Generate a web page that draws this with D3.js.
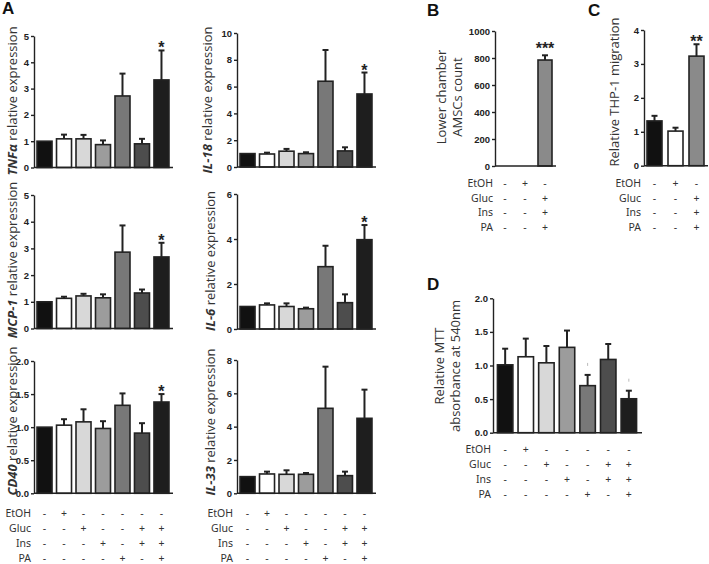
<!DOCTYPE html>
<html>
<head>
<meta charset="utf-8">
<script src="https://cdn.jsdelivr.net/npm/d3@7"></script>
<style>
  html, body { margin: 0; padding: 0; background: #fff; }
  svg { display: block; }
  .tick text { font-family: "Liberation Sans", Arial, sans-serif; font-weight: bold; font-size: 9.5px; fill: #222; }
  .tick line, .domain { stroke: #222; stroke-width: 1.4px; }
  .lab { font-family: "Open Sans", sans-serif; font-size: 13px; fill: #333; }
  .tbl { font-family: "Noto Sans", sans-serif; font-size: 10.5px; fill: #333; }
  .panel { font-family: "Liberation Sans", Arial, sans-serif; font-weight: bold; font-size: 17px; fill: #111; }
  .star { font-family: "Liberation Sans", Arial, sans-serif; font-weight: bold; font-size: 16px; fill: #222; }
</style>
</head>
<body>
<svg id="chart" width="709" height="564"></svg>
<script>
// --- data ---
const rowNames = ['EtOH', 'Gluc', 'Ins', 'PA'];
const signs7 = [
    ['-', '+', '-', '-', '-', '-', '-'],
    ['-', '-', '+', '-', '-', '+', '+'],
    ['-', '-', '-', '+', '-', '+', '+'],
    ['-', '-', '-', '-', '+', '-', '+']
];
const signs3 = [
    ['-', '+', '-'],
    ['-', '-', '+'],
    ['-', '-', '+'],
    ['-', '-', '+']
];
const fills7 = ['#111', '#fff', '#d8d8d8', '#9c9c9c', '#787878', '#4d4d4d', '#1e1e1e'];
const fillsB = ['#111', '#fff', '#8a8a8a'];

const tnfMean = [1.0, 1.09, 1.09, 0.87, 2.72, 0.9, 3.33];
const tnfErr = [0, 0.16, 0.15, 0.16, 0.85, 0.19, 1.12];
const il18Mean = [1.0, 0.97, 1.18, 1.0, 6.4, 1.2, 5.45];
const il18Err = [0, 0.1, 0.17, 0.1, 2.33, 0.27, 1.6];
const mcp1Mean = [1.0, 1.13, 1.22, 1.15, 2.86, 1.33, 2.68];
const mcp1Err = [0, 0.06, 0.08, 0.13, 1.0, 0.13, 0.53];
const il6Mean = [1.0, 1.07, 1.0, 0.9, 2.77, 1.17, 3.97];
const il6Err = [0, 0.07, 0.14, 0.05, 0.93, 0.37, 0.65];
const cd40Mean = [1.0, 1.03, 1.08, 0.98, 1.33, 0.91, 1.38];
const cd40Err = [0, 0.09, 0.19, 0.11, 0.18, 0.15, 0.12];
const il33Mean = [1.0, 1.16, 1.14, 1.14, 5.1, 1.06, 4.5];
const il33Err = [0, 0.14, 0.24, 0.08, 2.5, 0.24, 1.72];

const amscMean = [0, 0, 785];
const amscErr = [0, 0, 35];
const thpMean = [1.32, 1.02, 3.23];
const thpErr = [0.15, 0.1, 0.35];
const mttMean = [1.01, 1.13, 1.04, 1.27, 0.70, 1.09, 0.505];
const mttErr = [0.24, 0.27, 0.25, 0.25, 0.16, 0.23, 0.12];

const svg = d3.select('#chart');

// draws one bar panel; returns the x scale so the table can line up
function barPanel(o) {
    const n = o.mean.length;
    const x = d3.scaleBand().domain(d3.range(n)).range([o.x0, o.x1])
        .paddingInner(o.padIn || 0.23).paddingOuter(o.padOut || 0.155);
    const y = d3.scaleLinear().domain([0, o.max]).range([o.yb, o.yt]);
    const g = svg.append('g');

    g.append('g')
        .attr('transform', `translate(${o.x0},0)`)
        .call(d3.axisLeft(y).tickValues(o.ticks).tickSize(3).tickSizeOuter(0).tickPadding(2)
            .tickFormat(o.fmt ? d3.format(o.fmt) : d3.format('d')));

    g.selectAll('.bar').data(o.mean).enter().append('rect')
        .attr('x', (d, i) => x(i))
        .attr('y', d => y(d))
        .attr('width', x.bandwidth())
        .attr('height', d => y(0) - y(d))
        .attr('fill', (d, i) => o.fills[i])
        .attr('stroke', '#222')
        .attr('stroke-width', d => d > 0 ? 1.6 : 0);

    o.mean.forEach((d, i) => {
        const e = o.err[i];
        if (!e) return;
        const cx = x(i) + x.bandwidth() / 2;
        g.append('line').attr('x1', cx).attr('x2', cx).attr('y1', y(d)).attr('y2', y(d + e))
            .attr('stroke', '#222').attr('stroke-width', 2);
        g.append('line').attr('x1', cx - 3).attr('x2', cx + 3).attr('y1', y(d + e)).attr('y2', y(d + e))
            .attr('stroke', '#222').attr('stroke-width', 2);
    });

    // baseline
    g.append('line').attr('x1', o.x0).attr('x2', o.x1 + 1).attr('y1', y(0)).attr('y2', y(0))
        .attr('stroke', '#222').attr('stroke-width', 1.6);

    (o.stars || []).forEach(s => {
        const d = o.mean[s.i] + o.err[s.i];
        g.append('text').attr('class', 'star')
            .attr('x', x(s.i) + x.bandwidth() / 2)
            .attr('y', y(d) + (s.dy || 3))
            .attr('text-anchor', 'middle')
            .text(s.t);
    });

    // y label
    const lab = g.append('text').attr('class', 'lab')
        .attr('transform', `translate(${o.labX},${o.labY}) rotate(-90)`)
        .attr('text-anchor', 'middle');
    if (o.gene) {
        lab.attr('dominant-baseline', 'central');
        lab.append('tspan').attr('font-weight', 'bold').attr('font-style', 'italic').text(o.gene);
        lab.append('tspan').text(' relative expression');
    } else {
        o.lines.forEach((t, k) => {
            lab.append('tspan').attr('x', 0).attr('dy', k === 0 ? 0 : 16).text(t);
        });
    }
    return x;
}

function signTable(x, rows, labelX, ys) {
    const g = svg.append('g');
    rowNames.forEach((r, k) => {
        g.append('text').attr('class', 'tbl').attr('x', labelX).attr('y', ys[k])
            .attr('text-anchor', 'end').attr('dominant-baseline', 'central').text(r);
        rows[k].forEach((s, i) => {
            g.append('text').attr('class', 'tbl')
                .attr('x', x(i) + x.bandwidth() / 2).attr('y', ys[k])
                .attr('text-anchor', 'middle').attr('dominant-baseline', 'central').text(s);
        });
    });
}

// --- panel A ---
barPanel({ mean: tnfMean, err: tnfErr, fills: fills7, x0: 34, x1: 172, yb: 167.5, yt: 36, max: 5,
    ticks: [0, 1, 2, 3, 4, 5], stars: [{ i: 6, t: '*' }], gene: 'TNFα', labX: 11.5, labY: 101 });
barPanel({ mean: il18Mean, err: il18Err, fills: fills7, x0: 237, x1: 375, yb: 167, yt: 33, max: 10,
    ticks: [0, 2, 4, 6, 8, 10], stars: [{ i: 6, t: '*' }], gene: 'IL-18', labX: 207, labY: 100 });
barPanel({ mean: mcp1Mean, err: mcp1Err, fills: fills7, x0: 34, x1: 172, yb: 328.5, yt: 195, max: 5,
    ticks: [0, 1, 2, 3, 4, 5], stars: [{ i: 6, t: '*' }], gene: 'MCP-1', labX: 11.5, labY: 260 });
barPanel({ mean: il6Mean, err: il6Err, fills: fills7, x0: 237, x1: 375, yb: 329, yt: 194, max: 6,
    ticks: [0, 2, 4, 6], stars: [{ i: 6, t: '*' }], gene: 'IL-6', labX: 210, labY: 261 });
barPanel({ mean: cd40Mean, err: cd40Err, fills: fills7, x0: 34, x1: 172, yb: 493.3, yt: 361, max: 2,
    ticks: [0, 0.5, 1, 1.5, 2], fmt: '.1f', stars: [{ i: 6, t: '*' }], gene: 'CD40', labX: 11.5, labY: 421 });
const xA = barPanel({ mean: il33Mean, err: il33Err, fills: fills7, x0: 237, x1: 375, yb: 493.3, yt: 360, max: 8,
    ticks: [0, 2, 4, 6, 8], gene: 'IL-33', labX: 210, labY: 422 });
const xAl = d3.scaleBand().domain(d3.range(7)).range([34, 172]).paddingInner(0.23).paddingOuter(0.155);

signTable(xAl, signs7, 31, [512.5, 527.8, 542.8, 557.5]);
signTable(xA, signs7, 233, [512.5, 527.8, 542.8, 557.5]);

// --- panel B ---
const xB = barPanel({ mean: amscMean, err: amscErr, fills: fillsB, x0: 495, x1: 555, yb: 166, yt: 31, max: 1000,
    ticks: [0, 200, 400, 600, 800, 1000], padIn: 0.3, padOut: 0.15, stars: [{ i: 2, t: '***', dy: -1 }],
    lines: ['Lower chamber', 'AMSCs count'], labX: 446, labY: 97 });
signTable(xB, signs3, 493, [182.7, 197.7, 212.3, 226.7]);

// --- panel C ---
const xC = barPanel({ mean: thpMean, err: thpErr, fills: fillsB, x0: 644, x1: 707, yb: 165.7, yt: 30, max: 4,
    ticks: [0, 1, 2, 3, 4], padIn: 0.286, padOut: 0.143, stars: [{ i: 2, t: '**', dy: 0 }],
    lines: ['Relative THP-1 migration'], labX: 619, labY: 92 });
signTable(xC, signs3, 641, [182.7, 197.7, 212.3, 226.7]);

// --- panel D ---
const xD = barPanel({ mean: mttMean, err: mttErr, fills: fills7, x0: 493, x1: 641, yb: 432.7, yt: 298.3, max: 2,
    ticks: [0, 0.5, 1, 1.5, 2], fmt: '.1f', padIn: 0.25, padOut: 0.215,
    lines: ['Relative MTT', 'absorbance at 540nm'], labX: 444, labY: 366 });
signTable(xD, signs7, 491, [449, 464.3, 479, 494.3]);

// faint marks above the two PA bars in D
[4, 6].forEach(i => {
    const yD = d3.scaleLinear().domain([0, 2]).range([432.7, 298.3]);
    const cx = xD(i) + xD.bandwidth() / 2;
    svg.append('line').attr('x1', cx).attr('x2', cx)
        .attr('y1', yD(mttMean[i] + mttErr[i]) - 12).attr('y2', yD(mttMean[i] + mttErr[i]) - 9)
        .attr('stroke', '#bbb').attr('stroke-width', 1);
});

// panel letters
[['A', 2, 14], ['B', 427, 16], ['C', 588, 16], ['D', 427, 290]].forEach(p => {
    svg.append('text').attr('class', 'panel').attr('x', p[1]).attr('y', p[2]).text(p[0]);
});
</script>
</body>
</html>
